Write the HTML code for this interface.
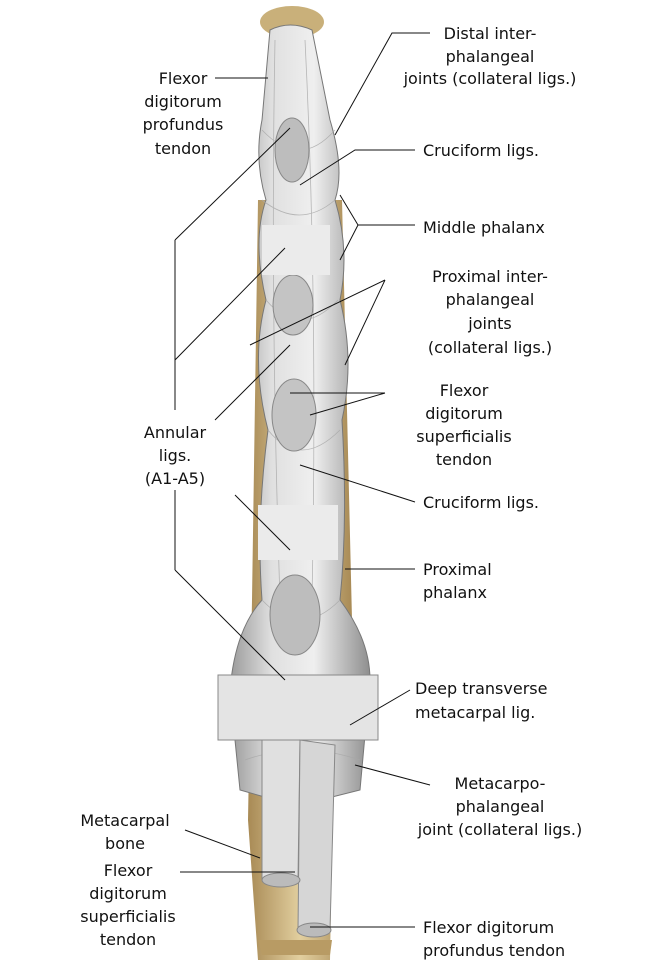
<!DOCTYPE html>
<html><head><meta charset="utf-8"><style>
body{margin:0;background:#fff;}
svg{display:block}
text{font-family:"DejaVu Sans","Liberation Sans",sans-serif;font-size:16px;fill:#111}
</style></head><body>
<svg width="648" height="967" viewBox="0 0 648 967" xmlns="http://www.w3.org/2000/svg">
<defs>
<linearGradient id="g" x1="0" x2="1"><stop offset="0" stop-color="#9a9a9a"/><stop offset="0.3" stop-color="#e0e0e0"/><stop offset="0.6" stop-color="#efefef"/><stop offset="1" stop-color="#8e8e8e"/></linearGradient>
<linearGradient id="b" x1="0" x2="1"><stop offset="0" stop-color="#a88a55"/><stop offset="0.5" stop-color="#e2cf9f"/><stop offset="1" stop-color="#a88a55"/></linearGradient>
</defs>
<path d="M258 200 L342 200 L352 620 L335 680 L330 960 L258 960 L248 820 L252 600 Z" fill="url(#b)"/>
<ellipse cx="292" cy="22" rx="32" ry="16" fill="#c9b07a"/>
<path d="M270 30 Q290 20 312 30 L330 120 Q345 170 335 200 Q350 250 340 300 Q355 360 342 420 Q348 520 340 600 Q370 640 370 680 L360 790 L320 800 L275 800 L240 790 L230 690 Q235 630 262 600 Q256 520 268 430 Q250 360 266 300 Q252 240 266 200 Q254 160 262 120 Z" fill="url(#g)" stroke="#777" stroke-width="1"/>
<g stroke="#a8a8a8" stroke-width="0.8" fill="none" opacity="0.8">
<path d="M275 40 Q270 300 280 600"/><path d="M305 40 Q318 300 312 600"/><path d="M262 130 Q300 170 335 130"/><path d="M262 200 Q300 230 335 200"/><path d="M266 300 Q300 340 338 300"/><path d="M268 430 Q300 470 340 430"/><path d="M262 600 Q300 640 340 600"/><path d="M245 760 Q300 740 360 760"/>
</g>
<ellipse cx="292" cy="150" rx="17" ry="32" fill="#bdbdbd" stroke="#888"/>
<ellipse cx="293" cy="305" rx="20" ry="30" fill="#c4c4c4" stroke="#888"/>
<ellipse cx="294" cy="415" rx="22" ry="36" fill="#c4c4c4" stroke="#888"/>
<ellipse cx="295" cy="615" rx="25" ry="40" fill="#bdbdbd" stroke="#888"/>
<rect x="262" y="225" width="68" height="50" fill="#ebebeb"/>
<rect x="258" y="505" width="80" height="55" fill="#ebebeb"/>
<path d="M218 675 L378 675 L378 740 L218 740 Z" fill="#e4e4e4" stroke="#888"/>
<path d="M262 740 L300 740 L298 880 L262 880 Z" fill="#e0e0e0" stroke="#888"/>
<path d="M300 740 L335 745 L330 930 L298 930 Z" fill="#d6d6d6" stroke="#888"/>
<ellipse cx="281" cy="880" rx="19" ry="7" fill="#bbb" stroke="#888"/>
<ellipse cx="314" cy="930" rx="17" ry="7" fill="#bbb" stroke="#888"/>
<path d="M258 940 L332 940 L330 955 L262 955 Z" fill="#b89b64"/>
<g stroke="#111" stroke-width="1" fill="none">
<path d="M215 78 L268 78"/>
<path d="M175 240 L175 410 M175 490 L175 570"/>
<path d="M175 240 L290 128 M175 360 L285 248 M215 420 L290 345 M235 495 L290 550 M175 570 L285 680"/>
<path d="M430 33 L392 33 L335 135"/>
<path d="M415 150 L355 150 L300 185"/>
<path d="M340 195 L358 225 L340 260 M358 225 L415 225"/>
<path d="M385 280 L250 345 M385 280 L345 365"/>
<path d="M385 393 L290 393 M385 393 L310 415"/>
<path d="M415 502 L300 465"/>
<path d="M415 569 L345 569"/>
<path d="M410 690 L350 725"/>
<path d="M430 785 L355 765"/>
<path d="M415 927 L310 927"/>
<path d="M185 830 L260 858"/>
<path d="M180 872 L295 872"/>
</g>
<g text-anchor="middle">
<text x="183" y="84">Flexor</text><text x="183" y="107">digitorum</text><text x="183" y="130">profundus</text><text x="183" y="154">tendon</text>
<text x="175" y="438">Annular</text><text x="175" y="461">ligs.</text><text x="175" y="484">(A1-A5)</text>
<text x="125" y="826">Metacarpal</text><text x="125" y="849">bone</text>
<text x="128" y="876">Flexor</text><text x="128" y="899">digitorum</text><text x="128" y="922">superficialis</text><text x="128" y="945">tendon</text>
<text x="490" y="39">Distal inter-</text><text x="490" y="62">phalangeal</text><text x="490" y="84">joints (collateral ligs.)</text>
<text x="490" y="282">Proximal inter-</text><text x="490" y="305">phalangeal</text><text x="490" y="329">joints</text><text x="490" y="353">(collateral ligs.)</text>
<text x="464" y="396">Flexor</text><text x="464" y="419">digitorum</text><text x="464" y="442">superficialis</text><text x="464" y="465">tendon</text>
<text x="500" y="789">Metacarpo-</text><text x="500" y="812">phalangeal</text><text x="500" y="835">joint (collateral ligs.)</text>
</g>
<text x="423" y="156">Cruciform ligs.</text>
<text x="423" y="233">Middle phalanx</text>
<text x="423" y="508">Cruciform ligs.</text>
<text x="423" y="575">Proximal</text><text x="423" y="598">phalanx</text>
<text x="415" y="694">Deep transverse</text><text x="415" y="718">metacarpal lig.</text>
<text x="423" y="933">Flexor digitorum</text><text x="423" y="956">profundus tendon</text>
</svg>
</body></html>
